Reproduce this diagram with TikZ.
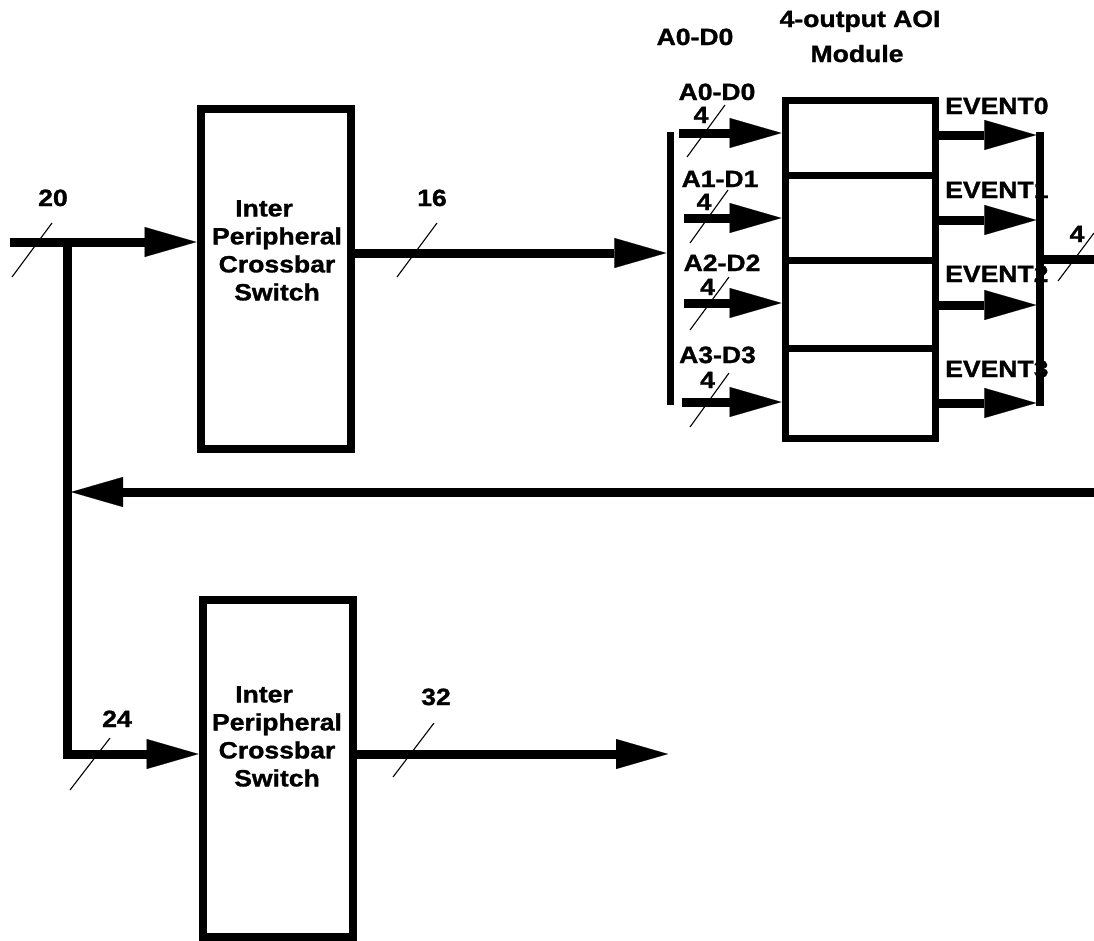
\documentclass[tikz,border=0pt]{standalone}
\usepackage{fontspec}
\setmainfont{Liberation Sans}[BoldFeatures={FakeBold=1.2}]
\usepackage{graphicx}
\usetikzlibrary{arrows.meta}
\newcommand\wtxt[1]{\scalebox{1.13}[1]{#1}}
\tikzset{
  lbl/.style={font=\fontsize{23.5}{28}\selectfont\bfseries, inner sep=0pt, anchor=base},
  boxtxt/.style={font=\fontsize{23.5}{28}\selectfont\bfseries, inner sep=0pt, align=center, anchor=north},
  xbar/.style={draw, line width=8pt, minimum width=150pt, inner sep=0pt},
  modpart/.style={draw, line width=7pt, minimum width=150pt, inner sep=0pt},
  busbar/.style={fill=black, inner sep=0pt, minimum width=7pt, minimum height=273pt},
  wire/.style={line width=9pt, -{Triangle[length=52pt,width=30pt,line width=0.1pt]}},
  plain/.style={line width=9pt},
  slash/.style={line width=1.1pt}
}
\begin{document}
\begin{tikzpicture}[x=1pt,y=-1pt]
\useasboundingbox (0,0) rectangle (1094,940);

% crossbar boxes
\node[xbar, minimum height=340pt] (xb1) at (275.5,279) {};
\node[xbar, minimum height=337pt] (xb2) at (277.5,768.5) {};
\node[boxtxt] (t1) at (277,200) {\wtxt{Inter}\hspace*{26pt}\\\wtxt{Peripheral}\\\wtxt{Crossbar}\\\wtxt{Switch}};
\node[boxtxt] (t2) at (277,686) {\wtxt{Inter}\hspace*{26pt}\\\wtxt{Peripheral}\\\wtxt{Crossbar}\\\wtxt{Switch}};

% AOI module
\node[modpart, minimum height=75pt] (m0) at (860,137.5) {};
\node[modpart, minimum height=85pt] (m1) at (860,217.5) {};
\node[modpart, minimum height=88pt] (m2) at (860,304) {};
\node[modpart, minimum height=90pt] (m3) at (860,393) {};

% bus bars
\node[busbar] (bus1) at (670,268.5) {};
\node[busbar] (bus2) at (1040,269) {};

% coordinates
\coordinate (in) at (10,242);
\coordinate (j1) at (67,242);
\coordinate (j2) at (67,754);
\coordinate (fb) at (1094,492);
\coordinate (j3) at (71,492);
\coordinate (o32) at (668,754);
\coordinate (o4) at (1094,259);
\coordinate (i0) at (679,133);
\coordinate (i1) at (684,218);
\coordinate (i2) at (684,303);
\coordinate (i3) at (682,402);

% connectors
\draw[wire] (in) -- (xb1.west |- in);
\draw[wire] (j1) -- (j2) -- (xb2.west |- j2);
\draw[wire] (fb) -- (j3);
\draw[wire] (xb1.east |- 0,253) -- (bus1.west |- 0,253);
\draw[wire] (xb2.east |- o32) -- (o32);
\draw[wire] (i0) -- (m0.west |- i0);
\draw[wire] (i1) -- (m1.west |- i1);
\draw[wire] (i2) -- (m2.west |- i2);
\draw[wire] (i3) -- (m3.west |- i3);
\draw[wire] (m0.east |- 0,135) -- (bus2.west |- 0,135);
\draw[wire] (m1.east |- 0,220) -- (bus2.west |- 0,220);
\draw[wire] (m2.east |- 0,305) -- (bus2.west |- 0,305);
\draw[wire] (m3.east |- 0,403) -- (bus2.west |- 0,403);
\draw[plain] (bus2.east |- o4) -- (o4);

% bus width slashes
\draw[slash] (12,277) -- (52,223);
\draw[slash] (397,277) -- (437,223);
\draw[slash] (70,790) -- (110,738);
\draw[slash] (393,777) -- (434,723);
\draw[slash] (687,157) -- (725,105);
\draw[slash] (690,243) -- (728,190);
\draw[slash] (690,330) -- (729,277);
\draw[slash] (690,427) -- (729,373);
\draw[slash] (1058,281) -- (1094,233);

% labels
\node[lbl] (l20) at (53,206) {\wtxt{20}};
\node[lbl] (l16) at (432,206) {\wtxt{16}};
\node[lbl] (l24) at (117,727) {\wtxt{24}};
\node[lbl] (l32) at (436,705) {\wtxt{32}};
\node[lbl] (lA) at (695,45) {\wtxt{A0-D0}};
\node[lbl] (lm1) at (860,27) {\wtxt{4-output AOI}};
\node[lbl] (lm2) at (857,62) {\wtxt{Module}};
\node[lbl] (la0) at (717,100) {\wtxt{A0-D0}};
\node[lbl] (n0) at (701,123) {\wtxt{4}};
\node[lbl] (la1) at (720,187) {\wtxt{A1-D1}};
\node[lbl] (n1) at (704,210) {\wtxt{4}};
\node[lbl] (la2) at (722,271) {\wtxt{A2-D2}};
\node[lbl] (n2) at (707.5,295) {\wtxt{4}};
\node[lbl] (la3) at (717.5,363) {\wtxt{A3-D3}};
\node[lbl] (n3) at (707.5,388) {\wtxt{4}};
\node[lbl, anchor=base west] (e0) at (945,114) {\wtxt{EVENT0}};
\node[lbl, anchor=base west] (e1) at (945,198) {\wtxt{EVENT1}};
\node[lbl, anchor=base west] (e2) at (945,282) {\wtxt{EVENT2}};
\node[lbl, anchor=base west] (e3) at (945,377) {\wtxt{EVENT3}};
\node[lbl] (n4) at (1077,242) {\wtxt{4}};

% bus bar drawn over event labels
\fill (bus2.north west) rectangle (bus2.south east);
\end{tikzpicture}
\end{document}
